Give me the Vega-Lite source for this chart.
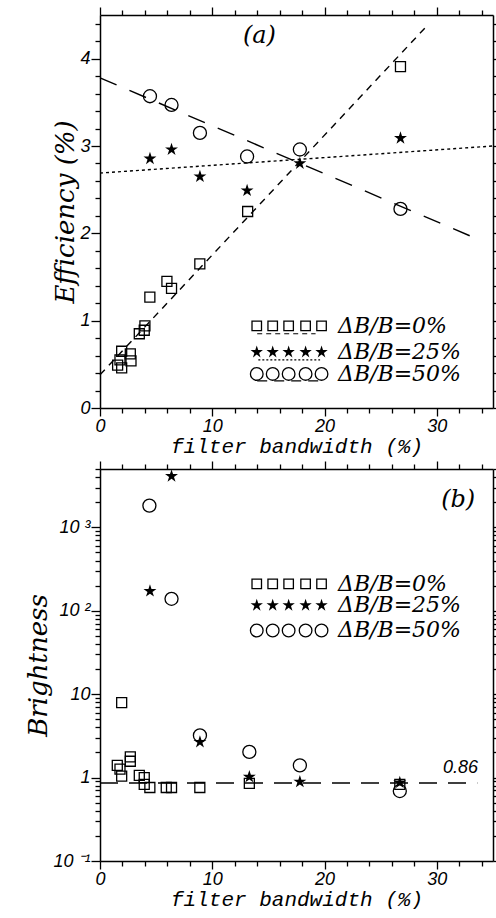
{
  "$schema": "https://vega.github.io/schema/vega-lite/v6.json",
  "padding": {"left": 25, "top": 6, "right": 0, "bottom": 0},
  "background": "white",
  "spacing": 4,
  "config": {
    "view": {"stroke": null},
    "axis": {
      "grid": false,
      "domainColor": "black",
      "domainWidth": 1.5,
      "tickColor": "black",
      "tickWidth": 1.3,
      "labelColor": "black",
      "labelFont": "Liberation Sans",
      "labelFontStyle": "italic",
      "labelFontSize": 18,
      "labelPadding": 1,
      "labelOverlap": false,
      "labelFlush": false,
      "titleColor": "black",
      "titleFontWeight": "normal"
    }
  },
  "datasets": {
    "eff": [
      {"s": "0", "bw": 1.57, "v": 0.49},
      {"s": "0", "bw": 1.93, "v": 0.46},
      {"s": "0", "bw": 1.93, "v": 0.65},
      {"s": "0", "bw": 1.78, "v": 0.55},
      {"s": "0", "bw": 2.7, "v": 0.62},
      {"s": "0", "bw": 2.76, "v": 0.54},
      {"s": "0", "bw": 3.5, "v": 0.85},
      {"s": "0", "bw": 3.94, "v": 0.89},
      {"s": "0", "bw": 4.0, "v": 0.94},
      {"s": "0", "bw": 4.44, "v": 1.27},
      {"s": "0", "bw": 5.96, "v": 1.45},
      {"s": "0", "bw": 6.37, "v": 1.37},
      {"s": "0", "bw": 8.89, "v": 1.65},
      {"s": "0", "bw": 13.15, "v": 2.25},
      {"s": "0", "bw": 26.76, "v": 3.91},
      {"s": "25", "bw": 4.45, "v": 2.855},
      {"s": "25", "bw": 6.37, "v": 2.96},
      {"s": "25", "bw": 8.9, "v": 2.65},
      {"s": "25", "bw": 13.1, "v": 2.49},
      {"s": "25", "bw": 17.8, "v": 2.8},
      {"s": "25", "bw": 26.76, "v": 3.09},
      {"s": "50", "bw": 4.45, "v": 3.57},
      {"s": "50", "bw": 6.37, "v": 3.47},
      {"s": "50", "bw": 8.9, "v": 3.15},
      {"s": "50", "bw": 13.1, "v": 2.88},
      {"s": "50", "bw": 17.8, "v": 2.96},
      {"s": "50", "bw": 26.76, "v": 2.28}
    ],
    "bri": [
      {"s": "0", "bw": 1.93, "v": 7.9},
      {"s": "0", "bw": 1.54, "v": 1.4},
      {"s": "0", "bw": 1.78, "v": 1.26},
      {"s": "0", "bw": 1.93, "v": 1.04},
      {"s": "0", "bw": 2.7, "v": 1.77},
      {"s": "0", "bw": 2.7, "v": 1.57},
      {"s": "0", "bw": 3.5, "v": 1.06},
      {"s": "0", "bw": 3.94, "v": 1.0},
      {"s": "0", "bw": 3.94, "v": 0.83},
      {"s": "0", "bw": 4.44, "v": 0.76},
      {"s": "0", "bw": 5.9, "v": 0.76},
      {"s": "0", "bw": 6.37, "v": 0.76},
      {"s": "0", "bw": 8.89, "v": 0.76},
      {"s": "0", "bw": 13.3, "v": 0.85},
      {"s": "0", "bw": 26.7, "v": 0.83},
      {"s": "25", "bw": 6.37, "v": 4100},
      {"s": "25", "bw": 4.45, "v": 172},
      {"s": "25", "bw": 8.9, "v": 2.67},
      {"s": "25", "bw": 13.3, "v": 1.02},
      {"s": "25", "bw": 17.8, "v": 0.89},
      {"s": "25", "bw": 26.7, "v": 0.87},
      {"s": "50", "bw": 4.4, "v": 1820},
      {"s": "50", "bw": 6.37, "v": 139},
      {"s": "50", "bw": 8.9, "v": 3.2},
      {"s": "50", "bw": 13.3, "v": 2.03},
      {"s": "50", "bw": 17.8, "v": 1.4},
      {"s": "50", "bw": 26.7, "v": 0.69}
    ],
    "fitsTop": [
      {"s": "0", "bw": 0, "v": 0.38},
      {"s": "0", "bw": 29.0, "v": 4.36},
      {"s": "25", "bw": 0, "v": 2.69},
      {"s": "25", "bw": 35, "v": 3.0},
      {"s": "50", "bw": 0, "v": 3.78},
      {"s": "50", "bw": 33.7, "v": 1.93}
    ],
    "fitBot": [
      {"bw": 0, "v": 0.86},
      {"bw": 33.6, "v": 0.86}
    ],
    "legTop": [
      {"s": "0", "bw": 13.96, "v": 0.94}, {"s": "0", "bw": 15.38, "v": 0.94}, {"s": "0", "bw": 16.8, "v": 0.94}, {"s": "0", "bw": 18.31, "v": 0.94}, {"s": "0", "bw": 19.73, "v": 0.94},
      {"s": "25", "bw": 13.96, "v": 0.64}, {"s": "25", "bw": 15.38, "v": 0.64}, {"s": "25", "bw": 16.8, "v": 0.64}, {"s": "25", "bw": 18.31, "v": 0.64}, {"s": "25", "bw": 19.73, "v": 0.64},
      {"s": "50", "bw": 13.96, "v": 0.39}, {"s": "50", "bw": 15.38, "v": 0.39}, {"s": "50", "bw": 16.8, "v": 0.39}, {"s": "50", "bw": 18.31, "v": 0.39}, {"s": "50", "bw": 19.73, "v": 0.39}
    ],
    "legTopLines": [
      {"s": "0", "bw": 14.0, "bw2": 19.2, "v": 0.85},
      {"s": "25", "bw": 14.1, "bw2": 19.6, "v": 0.55},
      {"s": "50", "bw": 14.0, "bw2": 19.6, "v": 0.31}
    ],
    "legBot": [
      {"s": "0", "bw": 13.96, "v": 210}, {"s": "0", "bw": 15.38, "v": 210}, {"s": "0", "bw": 16.8, "v": 210}, {"s": "0", "bw": 18.31, "v": 210}, {"s": "0", "bw": 19.73, "v": 210},
      {"s": "25", "bw": 13.96, "v": 116}, {"s": "25", "bw": 15.38, "v": 116}, {"s": "25", "bw": 16.8, "v": 116}, {"s": "25", "bw": 18.31, "v": 116}, {"s": "25", "bw": 19.73, "v": 116},
      {"s": "50", "bw": 13.96, "v": 58}, {"s": "50", "bw": 15.38, "v": 58}, {"s": "50", "bw": 16.8, "v": 58}, {"s": "50", "bw": 18.31, "v": 58}, {"s": "50", "bw": 19.73, "v": 58}
    ],
    "legTopText": [
      {"bw": 21.2, "v": 0.94, "t": "ΔB/B=0%"},
      {"bw": 21.2, "v": 0.64, "t": "ΔB/B=25%"},
      {"bw": 21.2, "v": 0.39, "t": "ΔB/B=50%"}
    ],
    "legBotText": [
      {"bw": 21.2, "v": 210, "t": "ΔB/B=0%"},
      {"bw": 21.2, "v": 116, "t": "ΔB/B=25%"},
      {"bw": 21.2, "v": 58, "t": "ΔB/B=50%"}
    ],
    "panelTop": [{"bw": 14.2, "v": 4.26, "t": "(a)"}],
    "panelBot": [{"bw": 31.9, "v": 2150, "t": "(b)"}, {"bw": 32.1, "v": 1.29, "t": "0.86", "k": "num"}]
  },
  "vconcat": [
    {
      "width": 393,
      "height": 393,
      "layer": [
        {
          "encoding": {
            "x": {
              "field": "bw", "type": "quantitative",
              "scale": {"domain": [0, 35], "nice": false, "zero": false},
              "axis": {
                "values": [0, 2, 4, 6, 8, 10, 12, 14, 16, 18, 20, 22, 24, 26, 28, 30, 32, 34],
                "labelExpr": "indexof([0,10,20,30], datum.value) >= 0 ? datum.label : ''",
                "tickSize": {"condition": {"test": "indexof([0,10,20,30], datum.value) >= 0", "value": 8}, "value": 5},
                "title": "filter bandwidth (%)",
                "titleFont": "Liberation Mono",
                "titleFontStyle": "italic",
                "titleFontSize": 21,
                "titlePadding": 0
              }
            },
            "y": {
              "field": "v", "type": "quantitative",
              "scale": {"domain": [0, 4.5], "nice": false, "zero": false},
              "axis": {
                "values": [0, 0.2, 0.4, 0.6, 0.8, 1, 1.2, 1.4, 1.6, 1.8, 2, 2.2, 2.4, 2.6, 2.8, 3, 3.2, 3.4, 3.6, 3.8, 4, 4.2, 4.4],
                "labelExpr": "indexof([0,1,2,3,4], datum.value) >= 0 ? toString(datum.value) : ''",
                "tickSize": {"condition": {"test": "indexof([0,1,2,3,4], datum.value) >= 0", "value": 9}, "value": 5},
                "title": "Efficiency (%)",
                "titleFont": "DejaVu Serif",
                "titleFontStyle": "italic",
                "titleFontSize": 26,
                "titlePadding": 1
              }
            }
          },
          "layer": [
            {"data": {"name": "fitsTop"}, "transform": [{"filter": "datum.s == '0'"}], "mark": {"type": "line", "color": "black", "strokeWidth": 1.4, "strokeDash": [7, 6]}},
            {"data": {"name": "fitsTop"}, "transform": [{"filter": "datum.s == '25'"}], "mark": {"type": "line", "color": "black", "strokeWidth": 1.4, "strokeDash": [3, 3]}},
            {"data": {"name": "fitsTop"}, "transform": [{"filter": "datum.s == '50'"}], "mark": {"type": "line", "color": "black", "strokeWidth": 1.4, "strokeDash": [18, 14]}},
            {"data": {"name": "legTopLines"}, "transform": [{"filter": "datum.s == '0'"}], "mark": {"type": "rule", "color": "black", "strokeWidth": 1.2, "strokeDash": [5, 4]}, "encoding": {"x2": {"field": "bw2"}}},
            {"data": {"name": "legTopLines"}, "transform": [{"filter": "datum.s == '25'"}], "mark": {"type": "rule", "color": "black", "strokeWidth": 1.2, "strokeDash": [2, 2]}, "encoding": {"x2": {"field": "bw2"}}},
            {"data": {"name": "legTopLines"}, "transform": [{"filter": "datum.s == '50'"}], "mark": {"type": "rule", "color": "black", "strokeWidth": 1.2, "strokeDash": [10, 7]}, "encoding": {"x2": {"field": "bw2"}}},
            {"data": {"name": "eff"}, "transform": [{"filter": "datum.s == '0'"}], "mark": {"type": "point", "shape": "square", "size": 100, "filled": false, "stroke": "black", "strokeWidth": 1.3, "opacity": 1}},
            {"data": {"name": "eff"}, "transform": [{"filter": "datum.s == '25'"}], "mark": {"type": "point", "shape": "M0,-1L0.2245,-0.309L0.9511,-0.309L0.3633,0.118L0.5878,0.809L0,0.382L-0.5878,0.809L-0.3633,0.118L-0.9511,-0.309L-0.2245,-0.309Z", "size": 185, "filled": true, "fill": "black", "stroke": null, "opacity": 1}},
            {"data": {"name": "eff"}, "transform": [{"filter": "datum.s == '50'"}], "mark": {"type": "point", "shape": "circle", "size": 170, "filled": false, "stroke": "black", "strokeWidth": 1.3, "opacity": 1}},
            {"data": {"name": "legTop"}, "transform": [{"filter": "datum.s == '0'"}], "mark": {"type": "point", "shape": "square", "size": 90, "filled": false, "stroke": "black", "strokeWidth": 1.3, "opacity": 1}},
            {"data": {"name": "legTop"}, "transform": [{"filter": "datum.s == '25'"}], "mark": {"type": "point", "shape": "M0,-1L0.2245,-0.309L0.9511,-0.309L0.3633,0.118L0.5878,0.809L0,0.382L-0.5878,0.809L-0.3633,0.118L-0.9511,-0.309L-0.2245,-0.309Z", "size": 170, "filled": true, "fill": "black", "stroke": null, "opacity": 1}},
            {"data": {"name": "legTop"}, "transform": [{"filter": "datum.s == '50'"}], "mark": {"type": "point", "shape": "circle", "size": 160, "filled": false, "stroke": "black", "strokeWidth": 1.3, "opacity": 1}},
            {"data": {"name": "legTopText"}, "mark": {"type": "text", "align": "left", "baseline": "middle", "font": "DejaVu Serif", "fontStyle": "italic", "fontSize": 22, "color": "black"}, "encoding": {"text": {"field": "t"}}},
            {"data": {"name": "panelTop"}, "mark": {"type": "text", "align": "center", "baseline": "middle", "font": "DejaVu Serif", "fontStyle": "italic", "fontSize": 24, "color": "black"}, "encoding": {"text": {"field": "t"}}}
          ]
        },
        {
          "data": {"name": "eff"},
          "mark": {"type": "point", "opacity": 0},
          "encoding": {
            "x": {
              "field": "bw", "type": "quantitative",
              "scale": {"domain": [0, 35], "nice": false, "zero": false},
              "axis": {
                "orient": "top", "labels": false, "title": null,
                "values": [0, 2, 4, 6, 8, 10, 12, 14, 16, 18, 20, 22, 24, 26, 28, 30, 32, 34],
                "tickSize": {"condition": {"test": "indexof([0,10,20,30], datum.value) >= 0", "value": 8}, "value": 5}
              }
            },
            "y": {
              "field": "v", "type": "quantitative",
              "scale": {"domain": [0, 4.5], "nice": false, "zero": false},
              "axis": {
                "orient": "right", "labels": false, "title": null,
                "values": [0, 0.2, 0.4, 0.6, 0.8, 1, 1.2, 1.4, 1.6, 1.8, 2, 2.2, 2.4, 2.6, 2.8, 3, 3.2, 3.4, 3.6, 3.8, 4, 4.2, 4.4],
                "tickSize": {"condition": {"test": "indexof([0,1,2,3,4], datum.value) >= 0", "value": 6}, "value": 4}
              }
            }
          }
        }
      ],
      "resolve": {"axis": {"x": "independent", "y": "independent"}}
    },
    {
      "width": 393,
      "height": 392,
      "layer": [
        {
          "encoding": {
            "x": {
              "field": "bw", "type": "quantitative",
              "scale": {"domain": [0, 35], "nice": false, "zero": false},
              "axis": {
                "values": [0, 2, 4, 6, 8, 10, 12, 14, 16, 18, 20, 22, 24, 26, 28, 30, 32, 34],
                "labelExpr": "indexof([0,10,20,30], datum.value) >= 0 ? datum.label : ''",
                "tickSize": {"condition": {"test": "indexof([0,10,20,30], datum.value) >= 0", "value": 8}, "value": 5},
                "title": "filter bandwidth (%)",
                "titleFont": "Liberation Mono",
                "titleFontStyle": "italic",
                "titleFontSize": 21,
                "titlePadding": 0
              }
            },
            "y": {
              "field": "v", "type": "quantitative",
              "scale": {"type": "log", "domain": [0.1, 5000], "nice": false},
              "axis": {
                "values": [0.1, 0.2, 0.3, 0.4, 0.5, 0.6, 0.7, 0.8, 0.9, 1, 2, 3, 4, 5, 6, 7, 8, 9, 10, 20, 30, 40, 50, 60, 70, 80, 90, 100, 200, 300, 400, 500, 600, 700, 800, 900, 1000, 2000, 3000, 4000, 5000],
                "labelExpr": "datum.value == 1000 ? '10 ³' : datum.value == 100 ? '10 ²' : datum.value == 10 ? '10' : datum.value == 1 ? '1' : datum.value == 0.1 ? '10 ⁻¹' : ''",
                "tickSize": {"condition": {"test": "indexof([0.1,1,10,100,1000], datum.value) >= 0", "value": 9}, "value": 5},
                "title": "Brightness",
                "titleFont": "DejaVu Serif",
                "titleFontStyle": "italic",
                "titleFontSize": 26,
                "titlePadding": 1
              }
            }
          },
          "layer": [
            {"data": {"name": "fitBot"}, "mark": {"type": "line", "color": "black", "strokeWidth": 1.4, "strokeDash": [18, 11]}},
            {"data": {"name": "bri"}, "transform": [{"filter": "datum.s == '0'"}], "mark": {"type": "point", "shape": "square", "size": 100, "filled": false, "stroke": "black", "strokeWidth": 1.3, "opacity": 1}},
            {"data": {"name": "bri"}, "transform": [{"filter": "datum.s == '25'"}], "mark": {"type": "point", "shape": "M0,-1L0.2245,-0.309L0.9511,-0.309L0.3633,0.118L0.5878,0.809L0,0.382L-0.5878,0.809L-0.3633,0.118L-0.9511,-0.309L-0.2245,-0.309Z", "size": 185, "filled": true, "fill": "black", "stroke": null, "opacity": 1}},
            {"data": {"name": "bri"}, "transform": [{"filter": "datum.s == '50'"}], "mark": {"type": "point", "shape": "circle", "size": 170, "filled": false, "stroke": "black", "strokeWidth": 1.3, "opacity": 1}},
            {"data": {"name": "legBot"}, "transform": [{"filter": "datum.s == '0'"}], "mark": {"type": "point", "shape": "square", "size": 90, "filled": false, "stroke": "black", "strokeWidth": 1.3, "opacity": 1}},
            {"data": {"name": "legBot"}, "transform": [{"filter": "datum.s == '25'"}], "mark": {"type": "point", "shape": "M0,-1L0.2245,-0.309L0.9511,-0.309L0.3633,0.118L0.5878,0.809L0,0.382L-0.5878,0.809L-0.3633,0.118L-0.9511,-0.309L-0.2245,-0.309Z", "size": 170, "filled": true, "fill": "black", "stroke": null, "opacity": 1}},
            {"data": {"name": "legBot"}, "transform": [{"filter": "datum.s == '50'"}], "mark": {"type": "point", "shape": "circle", "size": 160, "filled": false, "stroke": "black", "strokeWidth": 1.3, "opacity": 1}},
            {"data": {"name": "legBotText"}, "mark": {"type": "text", "align": "left", "baseline": "middle", "font": "DejaVu Serif", "fontStyle": "italic", "fontSize": 22, "color": "black"}, "encoding": {"text": {"field": "t"}}},
            {"data": {"name": "panelBot"}, "transform": [{"filter": "datum.k != 'num'"}], "mark": {"type": "text", "align": "center", "baseline": "middle", "font": "DejaVu Serif", "fontStyle": "italic", "fontSize": 24, "color": "black"}, "encoding": {"text": {"field": "t"}}},
            {"data": {"name": "panelBot"}, "transform": [{"filter": "datum.k == 'num'"}], "mark": {"type": "text", "align": "center", "baseline": "middle", "font": "Liberation Sans", "fontStyle": "italic", "fontSize": 18, "color": "black"}, "encoding": {"text": {"field": "t"}}}
          ]
        },
        {
          "data": {"name": "bri"},
          "mark": {"type": "point", "opacity": 0},
          "encoding": {
            "x": {
              "field": "bw", "type": "quantitative",
              "scale": {"domain": [0, 35], "nice": false, "zero": false},
              "axis": {
                "orient": "top", "labels": false, "title": null,
                "values": [0, 2, 4, 6, 8, 10, 12, 14, 16, 18, 20, 22, 24, 26, 28, 30, 32, 34],
                "tickSize": {"condition": {"test": "indexof([0,10,20,30], datum.value) >= 0", "value": 8}, "value": 5}
              }
            },
            "y": {
              "field": "v", "type": "quantitative",
              "scale": {"type": "log", "domain": [0.1, 5000], "nice": false},
              "axis": {
                "orient": "right", "labels": false, "title": null,
                "values": [0.1, 0.2, 0.3, 0.4, 0.5, 0.6, 0.7, 0.8, 0.9, 1, 2, 3, 4, 5, 6, 7, 8, 9, 10, 20, 30, 40, 50, 60, 70, 80, 90, 100, 200, 300, 400, 500, 600, 700, 800, 900, 1000, 2000, 3000, 4000, 5000],
                "tickSize": {"condition": {"test": "indexof([0.1,1,10,100,1000], datum.value) >= 0", "value": 6}, "value": 4}
              }
            }
          }
        }
      ],
      "resolve": {"axis": {"x": "independent", "y": "independent"}}
    }
  ]
}
